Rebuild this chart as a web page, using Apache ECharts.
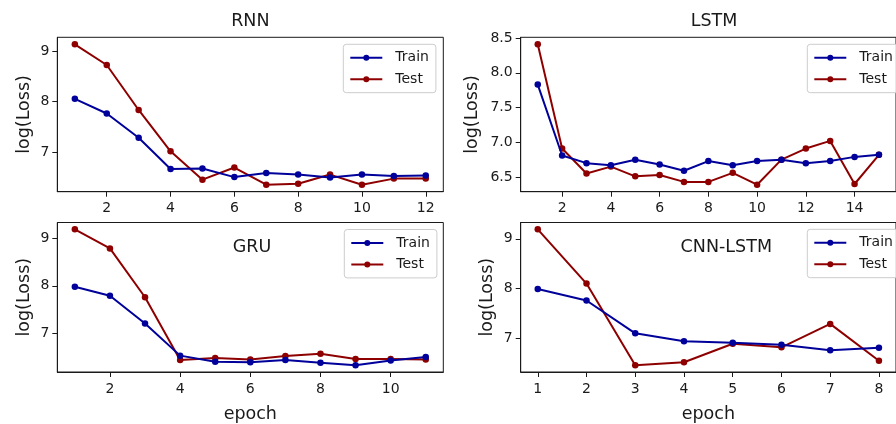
<!DOCTYPE html>
<html>
<head>
<meta charset="utf-8">
<script src="https://cdn.jsdelivr.net/npm/echarts@6/dist/echarts.min.js"></script>
<style>
  html, body { margin: 0; padding: 0; background: #fff; }
  #chart { width: 896px; height: 424px; }
</style>
</head>
<body>
<div id="chart"></div>
<script>
// Training curves: log(Loss) per epoch for four model families
const rnnEpochs = [1, 2, 3, 4, 5, 6, 7, 8, 9, 10, 11, 12];
const rnnTrain = [8.05, 7.76, 7.28, 6.66, 6.67, 6.50, 6.58, 6.55, 6.49, 6.55, 6.52, 6.53];
const rnnTest  = [9.13, 8.72, 7.83, 7.01, 6.45, 6.69, 6.35, 6.37, 6.55, 6.35, 6.47, 6.47];

const lstmEpochs = [1, 2, 3, 4, 5, 6, 7, 8, 9, 10, 11, 12, 13, 14, 15];
const lstmTrain = [7.83, 6.81, 6.70, 6.67, 6.75, 6.68, 6.59, 6.73, 6.67, 6.73, 6.75, 6.70, 6.73, 6.79, 6.82];
const lstmTest  = [8.41, 6.91, 6.55, 6.65, 6.51, 6.53, 6.43, 6.43, 6.56, 6.39, 6.75, 6.91, 7.02, 6.40, 6.82];

const gruEpochs = [1, 2, 3, 4, 5, 6, 7, 8, 9, 10, 11];
const gruTrain = [7.98, 7.79, 7.21, 6.54, 6.41, 6.40, 6.45, 6.39, 6.34, 6.44, 6.51];
const gruTest  = [9.18, 8.78, 7.76, 6.45, 6.49, 6.46, 6.53, 6.58, 6.47, 6.47, 6.46];

const cnnEpochs = [1, 2, 3, 4, 5, 6, 7, 8];
const cnnTrain = [7.99, 7.76, 7.10, 6.94, 6.91, 6.87, 6.76, 6.81];
const cnnTest  = [9.19, 8.10, 6.46, 6.52, 6.89, 6.82, 7.29, 6.55];

const rnnXTicks = [2, 4, 6, 8, 10, 12];
const lstmXTicks = [2, 4, 6, 8, 10, 12, 14];
const gruXTicks = [2, 4, 6, 8, 10];
const cnnXTicks = [1, 2, 3, 4, 5, 6, 7, 8];
const rnnYTicks = [7, 8, 9];
const lstmYTicks = [6.5, 7.0, 7.5, 8.0, 8.5];
const gruYTicks = [7, 8, 9];
const cnnYTicks = [7, 8, 9];

const seriesNames = ['Train', 'Test'];
const panelTitles = ['RNN', 'LSTM', 'GRU', 'CNN-LSTM'];

const TRAIN_COLOR = '#00009a';
const TEST_COLOR = '#8e0000';
const INK = '#1a1a1a';
const FONT = 'DejaVu Sans';

const panels = [
  { epochs: rnnEpochs, train: rnnTrain, test: rnnTest, xt: rnnXTicks, yt: rnnYTicks, dec: 0,
    grid: { left: 57.3, top: 37.3, width: 386, height: 154.4 }, nameGap: 24,
    legend: { left: 343.3, top: 44.3 } },
  { epochs: lstmEpochs, train: lstmTrain, test: lstmTest, xt: lstmXTicks, yt: lstmYTicks, dec: 1,
    grid: { left: 520.7, top: 37.3, width: 386.6, height: 154.4 }, nameGap: 39,
    legend: { left: 807.3, top: 44.3 } },
  { epochs: gruEpochs, train: gruTrain, test: gruTest, xt: gruXTicks, yt: gruYTicks, dec: 0,
    grid: { left: 57.3, top: 222.5, width: 386, height: 153.5 }, nameGap: 24,
    legend: { left: 344.3, top: 229.5 } },
  { epochs: cnnEpochs, train: cnnTrain, test: cnnTest, xt: cnnXTicks, yt: cnnYTicks, dec: 0,
    grid: { left: 520.7, top: 222.5, width: 386.6, height: 153.5 }, nameGap: 24,
    legend: { left: 807.3, top: 229.3 } }
];

// Autoscale with a 5% pad on each side of the data range
function padMin(v) { return v.min - (v.max - v.min) * 0.05; }
function padMax(v) { return v.max + (v.max - v.min) * 0.05; }

const pairs = (xs, ys) => xs.map((x, i) => [x, ys[i]]);

const grids = [], xAxes = [], yAxes = [], series = [], legends = [];

panels.forEach((p, i) => {
  grids.push(Object.assign({
    show: true, borderColor: INK, borderWidth: 1, backgroundColor: 'transparent', containLabel: false
  }, p.grid));

  xAxes.push({
    type: 'value', gridIndex: i, min: padMin, max: padMax,
    name: i >= 2 ? 'epoch' : '', nameLocation: 'middle', nameGap: 33,
    nameTextStyle: { fontFamily: FONT, fontSize: 17.5, color: INK },
    axisLine: { show: true, onZero: false, lineStyle: { color: INK, width: 1 } },
    axisTick: { show: true, length: 5, inside: false, customValues: p.xt, lineStyle: { color: INK } },
    axisLabel: { show: true, margin: 10, customValues: p.xt, fontFamily: FONT, fontSize: 14, color: INK },
    splitLine: { show: false }
  });

  yAxes.push({
    type: 'value', gridIndex: i, min: padMin, max: padMax,
    name: 'log(Loss)', nameLocation: 'middle', nameGap: p.nameGap,
    nameTextStyle: { fontFamily: FONT, fontSize: 17.5, color: INK },
    axisLine: { show: true, onZero: false, lineStyle: { color: INK, width: 1 } },
    axisTick: { show: true, length: 5, inside: false, customValues: p.yt, lineStyle: { color: INK } },
    axisLabel: {
      show: true, margin: 8, customValues: p.yt, fontFamily: FONT, fontSize: 14, color: INK,
      formatter: v => Number(v).toFixed(p.dec)
    },
    splitLine: { show: false }
  });

  [[p.train, TRAIN_COLOR], [p.test, TEST_COLOR]].forEach(([vals, color], k) => {
    series.push({
      type: 'line', name: seriesNames[k], xAxisIndex: i, yAxisIndex: i,
      data: pairs(p.epochs, vals),
      symbol: 'circle', symbolSize: 6.5, showSymbol: true,
      lineStyle: { color: color, width: 2 },
      itemStyle: { color: color, borderColor: color, borderWidth: 0 },
      emphasis: { disabled: true },
      animation: false, z: 3 + (1 - k)
    });
  });

  // Legend icon is a short line with a small dot; the dot scales with itemHeight
  legends.push({
    show: true, orient: 'vertical', left: p.legend.left, top: p.legend.top,
    data: seriesNames.map((n, k) => ({ name: n, itemStyle: { color: k ? TEST_COLOR : TRAIN_COLOR } })),
    itemWidth: 32, itemHeight: 7.5, itemGap: 7.6,
    padding: [6.4, 7, 6.4, 6],
    backgroundColor: 'rgba(255,255,255,0.8)', borderColor: '#cccccc', borderWidth: 1, borderRadius: 3,
    textStyle: { fontFamily: FONT, fontSize: 14, lineHeight: 14, color: INK, padding: [0, 0, 0, 8] },
    selectedMode: false
  });
});

// Panel headings: two above the plots, two inside them
const headings = [
  { text: panelTitles[0], x: 250.3, y: 21.5 },
  { text: panelTitles[1], x: 714, y: 21.5 },
  { text: panelTitles[2], x: 252, y: 247.5 },
  { text: panelTitles[3], x: 726.3, y: 247.8 }
].map(h => ({
  type: 'text', x: h.x, y: h.y, z: 10,
  style: { text: h.text, fontFamily: FONT, fontSize: 17.5, fill: INK, textAlign: 'center', textVerticalAlign: 'middle' }
}));

const chart = echarts.init(document.getElementById('chart'), null, { renderer: 'canvas' });
chart.setOption({
  animation: false,
  backgroundColor: '#ffffff',
  grid: grids,
  xAxis: xAxes,
  yAxis: yAxes,
  legend: legends,
  series: series,
  graphic: headings
});
</script>
</body>
</html>
